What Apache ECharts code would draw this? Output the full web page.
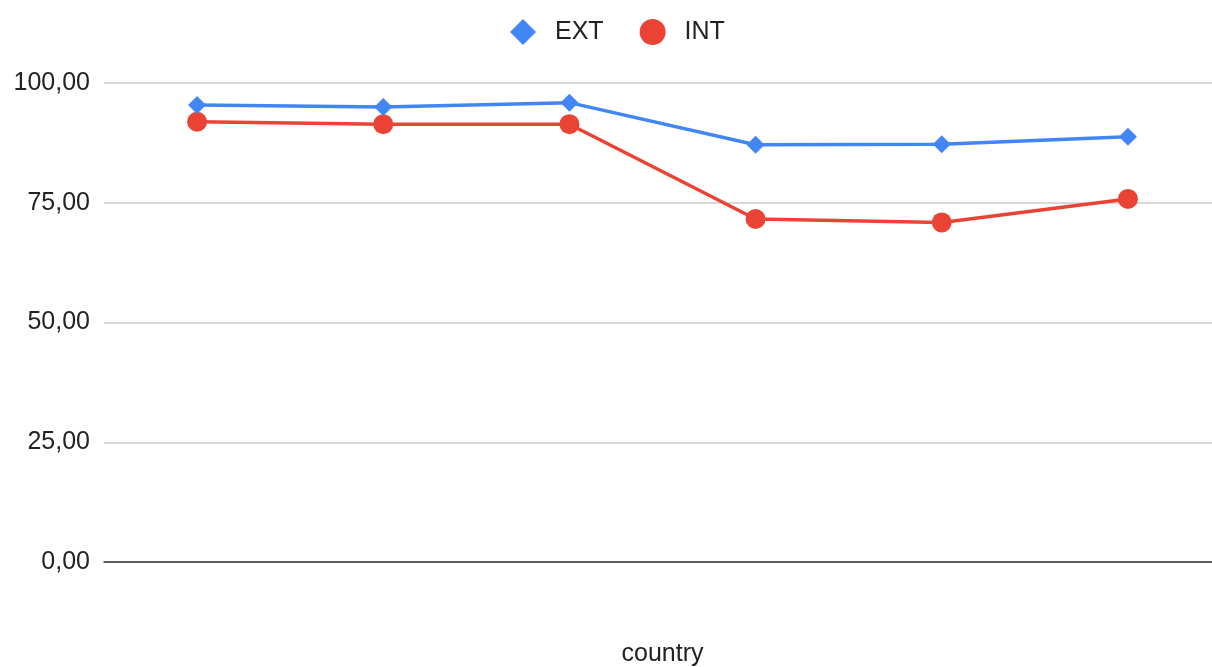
<!DOCTYPE html>
<html><head><meta charset="utf-8">
<script src="https://cdn.jsdelivr.net/npm/echarts@6/dist/echarts.min.js"></script>
<style>html,body{margin:0;padding:0;background:#fff}#c{width:1212px;height:667px}</style>
</head><body><div id="c"></div>
<script>
const categories = ["1", "2", "3", "4", "5", "6"];
const extValues = [95.4, 95.0, 95.9, 87.1, 87.2, 88.8];
const intValues = [91.9, 91.4, 91.4, 71.6, 70.9, 75.8];
const yTicks = [0, 25, 50, 75, 100];

const FONT = 'Liberation Sans, Arial, sans-serif';
const chart = echarts.init(document.getElementById('c'));
chart.setOption({
  animation: false,
  textStyle: { fontFamily: FONT },
  legend: {
    top: 14, left: 505, itemGap: 36, itemWidth: 26, itemHeight: 26,
    textStyle: { fontSize: 25, color: '#222', fontFamily: FONT, padding: [0, 0, 0, 14] },
    data: [
      { name: 'EXT', icon: 'diamond', itemStyle: { color: '#4285F4' } },
      { name: 'INT', icon: 'circle', itemStyle: { color: '#EA4335' } }
    ]
  },
  grid: { left: 104, right: -9, top: 83, bottom: 105, outerBoundsMode: 'none', containLabel: false },
  xAxis: {
    type: 'category', data: categories, boundaryGap: true,
    name: 'country', nameLocation: 'middle', nameGap: 80,
    nameTextStyle: { fontSize: 25, color: '#222', fontFamily: FONT },
    axisLine: { lineStyle: { color: '#333', width: 1.5 } },
    axisTick: { show: false }, axisLabel: { show: false }
  },
  yAxis: {
    type: 'value', min: yTicks[0], max: yTicks[yTicks.length - 1], interval: 25,
    axisLine: { show: false }, axisTick: { show: false },
    axisLabel: { fontSize: 25, color: '#222', margin: 14, fontFamily: FONT,
      formatter: v => v.toFixed(2).replace('.', ',') },
    splitLine: { lineStyle: { color: '#ccc', width: 1.5 } }
  },
  series: [
    { name: 'EXT', type: 'line', data: extValues, symbol: 'diamond', symbolSize: 18,
      lineStyle: { color: '#4285F4', width: 3.5 }, itemStyle: { color: '#4285F4' }, z: 3 },
    { name: 'INT', type: 'line', data: intValues, symbol: 'circle', symbolSize: 20,
      lineStyle: { color: '#EA4335', width: 3.5 }, itemStyle: { color: '#EA4335' }, z: 2 }
  ]
});
</script></body></html>
